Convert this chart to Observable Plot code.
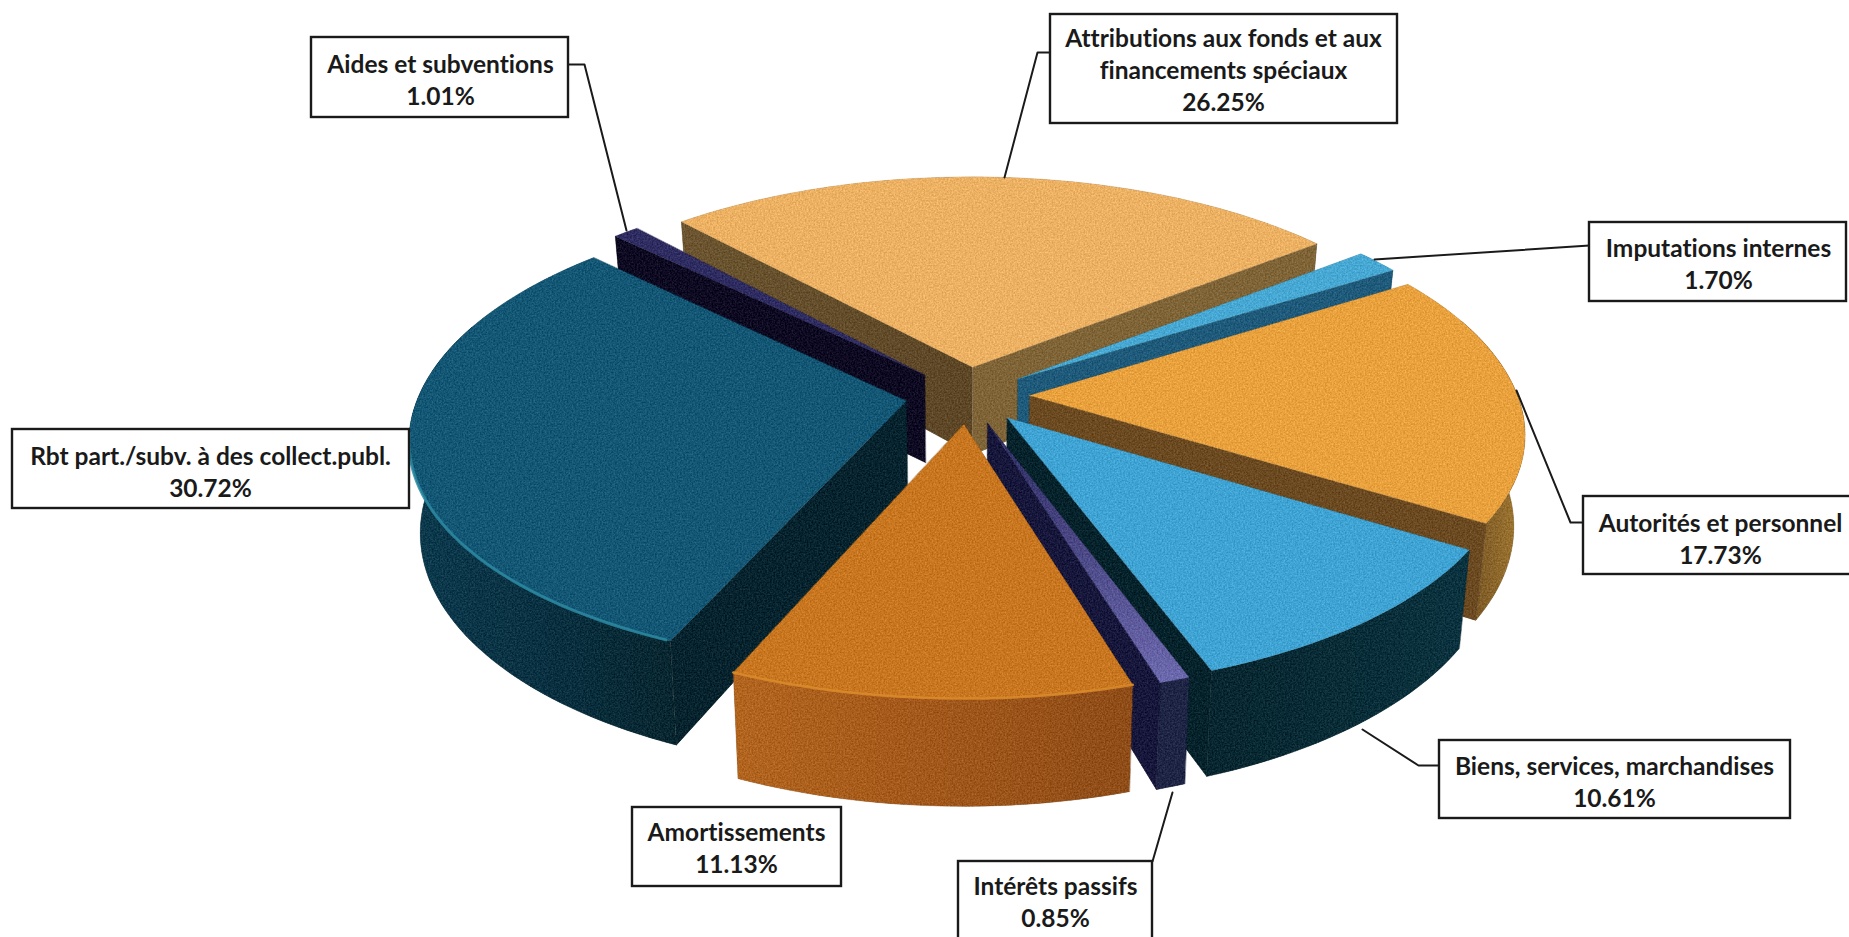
<!DOCTYPE html>
<html lang="fr"><head><meta charset="utf-8">
<script src="https://cdn.jsdelivr.net/npm/d3@7"></script>
<script src="https://cdn.jsdelivr.net/npm/@observablehq/plot@0.6"></script>
<style>html,body{margin:0;padding:0;background:#fff;overflow:hidden}svg{display:block}</style>
</head><body>
<svg width="0" height="0" style="position:absolute"><defs>
<linearGradient id="wallRbt" x1="0" x2="1" y1="0" y2="0"><stop offset="0" stop-color="#0d3a4e"/><stop offset=".55" stop-color="#0a3040"/><stop offset="1" stop-color="#08262f"/></linearGradient>
<linearGradient id="wallAmo" x1="0" x2="1" y1="0" y2="0"><stop offset="0" stop-color="#b2651f"/><stop offset=".5" stop-color="#a2581b"/><stop offset="1" stop-color="#8e4c18"/></linearGradient>
<linearGradient id="wallBie" x1="0" x2="1" y1="0" y2="0"><stop offset="0" stop-color="#08262f"/><stop offset="1" stop-color="#0b333f"/></linearGradient>
<linearGradient id="wallAut" x1="0" x2="1" y1="0" y2="0"><stop offset="0" stop-color="#6a4a22"/><stop offset="1" stop-color="#a37a32"/></linearGradient>
<linearGradient id="topInt" x1="0" x2="0" y1="0" y2="1"><stop offset="0" stop-color="#2c2a60"/><stop offset="1" stop-color="#6d69ae"/></linearGradient>
<linearGradient id="cutAtt" x1="0" x2="1" y1="0" y2="0"><stop offset="0" stop-color="#6c5530"/><stop offset="1" stop-color="#5c4626"/></linearGradient>
<filter id="grain" x="-5%" y="-5%" width="110%" height="110%" color-interpolation-filters="sRGB">
<feTurbulence type="fractalNoise" baseFrequency="0.6" numOctaves="2" seed="4" result="n"/>
<feColorMatrix in="n" type="matrix" values="1 0 0 0 0 1 0 0 0 0 1 0 0 0 0 0 0 0 0 1" result="g"/>
<feComposite in="SourceGraphic" in2="g" operator="arithmetic" k1="0" k2="1" k3="0.24" k4="-0.12" result="c"/>
<feComposite in="c" in2="SourceAlpha" operator="in"/>
</filter>
</defs></svg>
<div id="chart"></div>
<script>
const labels = ["Attributions aux fonds et aux\nfinancements spéciaux","Imputations internes","Autorités et personnel","Biens, services, marchandises","Intérêts passifs","Amortissements","Rbt part./subv. à des collect.publ.","Aides et subventions"];
const values = [26.25,1.70,17.73,10.61,0.85,11.13,30.72,1.01];
const topColors  = ["#ecb163","#47a9d3","#e9a13e","#3fa4d3","url(#topInt)","#c8761f","#135775","#2f2c62"];
const wallColors = ["#7d6236","#1a4a66","url(#wallAut)","url(#wallBie)","#1f2545","url(#wallAmo)","url(#wallRbt)","#0d0a22"];
const cutStart   = ["url(#cutAtt)","#1a4a66","#6b4a22","#08262f","#17173c","#8a4a18","#06232e","#0d0a22"];
const cutEnd     = ["#7f6438","#1f5a7a","#6b4a22","#06232c","#17173c","#8a4a18","#06232e","#0d0a22"];
const boxes = [[1050,14,1397,123],[1589,222,1846,301],[1583,496,1860,574],[1439,740,1790,818],[958,861,1152,950],[632,807,841,886],[12,429,409,508],[311,37,568,117]];
const textCenters = [[1223,68],[1718,262],[1720,537],[1614,780],[1055,900],[736,846],[210,470],[440,78]];
const leaders = [
  [[1050,52],[1037,52],[1004,177]],
  [[1589,245],[1374,259]],
  [[1583,522],[1570,522],[1516,390]],
  [[1439,765],[1418,765],[1362,729]],
  [[1152,861],[1172,792]],
  [],[],
  [[568,64],[584,64],[626,230]]
];
const fontPx = 24.5, lineGap = 32;

// projection of the exploded disc
const C = {cx:967, cy:395, R:488, S:222, Sback:228, p:0.155, H:89, e:0.127, start:-42.5};
const rad = d => d*Math.PI/180;
function proj(u,v,z=0){
  const k = 1/(1-C.p*v);
  return {x:C.cx + u*C.R*k*(1-0.02*z), y:C.cy + (v<0?C.Sback:C.S)*v*k + C.H*z*k};
}
const total = d3.sum(values);
const cums = d3.cumsum(values);
const slices = values.map((val,i)=>{
  const a1 = C.start + (cums[i]-val)/total*360, a2 = C.start + cums[i]/total*360, m=(a1+a2)/2;
  return {i,a1,a2,m,ox:C.e*Math.sin(rad(m)),oy:-C.e*Math.cos(rad(m))};
});
function rim(s,a,z){ return proj(s.ox+Math.sin(rad(a)), s.oy-Math.cos(rad(a)), z); }
function arcAngles(a1,a2){ const n=Math.max(2,Math.ceil((a2-a1)/1.5)); return d3.range(n+1).map(j=>a1+(a2-a1)*j/n); }

const polys=[], rims=[];
const order = slices.slice().sort((a,b)=>(a.oy)-(b.oy));
for(const s of order){
  const apex0 = proj(s.ox,s.oy,0), apex1 = proj(s.ox,s.oy,1);
  const front = arcAngles(s.a1,s.a2).filter(a=>-Math.cos(rad(a))>-0.35);
  if(front.length>1){
    polys.push({fill:wallColors[s.i],pts:[...front.map(a=>rim(s,a,0)),...front.slice().reverse().map(a=>rim(s,a,1))]});
  }
  if(-Math.sin(rad(s.a1))>0) polys.push({fill:cutStart[s.i],pts:[apex0,rim(s,s.a1,0),rim(s,s.a1,1),apex1]});
  if(Math.sin(rad(s.a2))>0)  polys.push({fill:cutEnd[s.i],pts:[apex0,rim(s,s.a2,0),rim(s,s.a2,1),apex1]});
  polys.push({fill:topColors[s.i],pts:[apex0,...arcAngles(s.a1,s.a2).map(a=>rim(s,a,0))]});
  if(s.i===6) rims.push({stroke:"#2b8ba3",width:3,pts:arcAngles(s.a1+0.5,262).map(a=>rim(s,a,0))});
  if(s.i===5) rims.push({stroke:"#dc8c2b",width:2.5,pts:arcAngles(s.a1,s.a2).map(a=>rim(s,a,0))});
}

const boxData = boxes.map((b,i)=>({x1:b[0],y1:b[1],x2:b[2],y2:b[3],label:labels[i]+"\n"+values[i].toFixed(2)+"%",cx:textCenters[i][0],cy:textCenters[i][1]}));

const marks = [
  ...polys.map(p=>Plot.line(p.pts,{x:"x",y:"y",fill:p.fill,stroke:p.fill,strokeWidth:0.6,curve:"linear-closed"})),
  ...rims.map(r=>Plot.line(r.pts,{x:"x",y:"y",stroke:r.stroke,strokeWidth:r.width,strokeOpacity:0.85})),
  ...leaders.filter(l=>l.length).map(l=>Plot.line(l,{x:d=>d[0],y:d=>d[1],stroke:"#1a1a1a",strokeWidth:2})),
  Plot.rect(boxData,{x1:"x1",x2:"x2",y1:"y1",y2:"y2",fill:"#fff",stroke:"#1a1a1a",strokeWidth:2.4}),
  Plot.text(boxData,{x:"cx",y:"cy",text:"label",fontFamily:"Lato",fontWeight:700,fontSize:fontPx,lineHeight:lineGap/fontPx,fill:"#1a1a1a",textAnchor:"middle",lineAnchor:"middle"})
];
const chart = Plot.plot({
  width:1849,height:937,margin:0,
  x:{domain:[0,1849],range:[0,1849],axis:null},
  y:{domain:[0,937],range:[0,937],axis:null},
  style:{background:"#fff",overflow:"hidden"},
  marks
});
chart.style.fontVariantLigatures = "none";
[...chart.querySelectorAll('g[aria-label="line"]')].slice(0,polys.length).forEach(g=>g.setAttribute("filter","url(#grain)"));
document.getElementById("chart").append(chart);
</script>
</body></html>
